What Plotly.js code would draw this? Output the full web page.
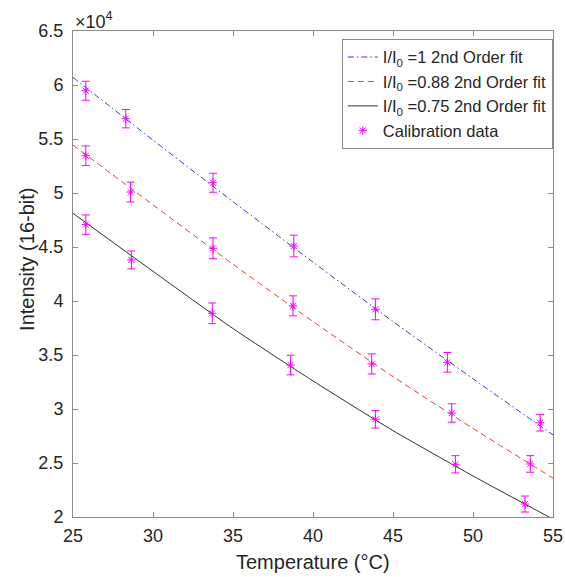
<!DOCTYPE html>
<html>
<head>
<meta charset="utf-8">
<script src="https://cdn.plot.ly/plotly-3.0.1.min.js"></script>
<style>html,body{margin:0;padding:0;background:#fff;}#chart{width:565px;height:577px;}</style>
</head>
<body>
<div id="chart"></div>
<script>
// Calibration data (Intensity, 16-bit counts)
const tempA = [25.8, 28.3, 33.75, 38.8, 43.9, 48.4, 54.2];
const intA  = [59470, 56880, 50950, 45090, 39230, 34320, 28730];
const errA  = [880, 850, 880, 1000, 970, 910, 770];

const tempB = [25.8, 28.6, 33.75, 38.75, 43.67, 48.67, 53.58];
const intB  = [53450, 50090, 44880, 39550, 34170, 29630, 24910];
const errB  = [910, 920, 960, 930, 930, 850, 770];

const tempC = [25.8, 28.65, 33.7, 38.6, 43.9, 48.9, 53.25];
const intC  = [47070, 43800, 38860, 34070, 29050, 24880, 21200];
const errC  = [900, 830, 960, 910, 820, 800, 740];

// 2nd order fit curves
const fitT  = [25, 30, 35, 40, 45, 50, 55];
const fitA  = [60700, 54900, 49200, 43600, 38100, 32800, 27600];
const fitB  = [54440, 48900, 43400, 38100, 33000, 28200, 23600];
const fitC  = [48120, 42750, 37450, 32600, 28000, 23800, 19800];

// Axis ticks
const xTicks = [25, 30, 35, 40, 45, 50, 55];
const yTickVals = [20000, 25000, 30000, 35000, 40000, 45000, 50000, 55000, 60000, 65000];
const yTickText = ['2', '2.5', '3', '3.5', '4', '4.5', '5', '5.5', '6', '6.5'];

const FONT = '"Liberation Sans", Arial, Helvetica, sans-serif';
const TXT = '#262626';
const MAG = '#FF00FF';

function dataTrace(x, y, e, show) {
  return {
    x: x, y: y, type: 'scatter', mode: 'markers',
    name: 'Calibration data', legendgroup: 'cal', showlegend: show,
    marker: {symbol: 'asterisk-open', size: 7, color: MAG, line: {color: MAG, width: 1}},
    error_y: {type: 'data', array: e, visible: true, color: MAG, thickness: 1, width: 4}
  };
}

const traces = [
  {x: fitT, y: fitA, type: 'scatter', mode: 'lines', name: 'I/I<sub>0</sub> =1 2nd Order fit',
   line: {color: '#3030FF', width: 1, dash: '6px,3px,1.5px,3px', shape: 'spline', smoothing: 0.6}},
  {x: fitT, y: fitB, type: 'scatter', mode: 'lines', name: 'I/I<sub>0</sub> =0.88 2nd Order fit',
   line: {color: '#FF3030', width: 1, dash: '6px,4px', shape: 'spline', smoothing: 0.6}},
  {x: fitT, y: fitC, type: 'scatter', mode: 'lines', name: 'I/I<sub>0</sub> =0.75 2nd Order fit',
   line: {color: '#303030', width: 1, shape: 'spline', smoothing: 0.6}},
  dataTrace(tempA, intA, errA, true),
  dataTrace(tempB, intB, errB, false),
  dataTrace(tempC, intC, errC, false)
];

const layout = {
  width: 565, height: 577,
  margin: {l: 73, r: 12, t: 31, b: 60, pad: 0},
  paper_bgcolor: '#fff', plot_bgcolor: '#fff',
  font: {family: FONT, color: TXT, size: 18},
  showlegend: true,
  legend: {
    x: 0.56, y: 0.984, xanchor: 'left', yanchor: 'top',
    bgcolor: '#fff', bordercolor: '#8a8a8a', borderwidth: 1,
    font: {family: FONT, size: 16.5, color: TXT},
    itemwidth: 30, tracegroupgap: 0
  },
  xaxis: {
    range: [25, 55], tickvals: xTicks, ticks: 'inside', ticklen: 5, tickcolor: '#8a8a8a',
    showline: true, linecolor: '#8a8a8a', linewidth: 1, mirror: 'ticks',
    showgrid: false, zeroline: false, automargin: false, ticklabelstandoff: 2,
    tickfont: {family: FONT, size: 18, color: TXT}
  },
  yaxis: {
    range: [20000, 65000], tickvals: yTickVals, ticktext: yTickText, ticks: 'inside', ticklen: 5,
    tickcolor: '#8a8a8a', showline: true, linecolor: '#8a8a8a', linewidth: 1, mirror: 'ticks',
    showgrid: false, zeroline: false, automargin: false, ticklabelstandoff: 5,
    tickfont: {family: FONT, size: 18, color: TXT}
  },
  annotations: [
    {xref: 'paper', yref: 'paper', x: 0, y: 1, xanchor: 'left', yanchor: 'bottom',
     text: '×10<sup>4</sup>', showarrow: false, font: {family: FONT, size: 18, color: TXT}, yshift: -3},
    {xref: 'paper', yref: 'paper', x: 0.5, y: -0.0926, xanchor: 'center', yanchor: 'middle',
     text: 'Temperature (°C)', showarrow: false, font: {family: FONT, size: 20, color: TXT}},
    {xref: 'paper', yref: 'paper', x: -0.0958, y: 0.529, xanchor: 'center', yanchor: 'middle',
     text: 'Intensity (16-bit)', textangle: -90, showarrow: false, font: {family: FONT, size: 20, color: TXT}}
  ]
};

Plotly.newPlot('chart', traces, layout, {displayModeBar: false, staticPlot: true});
</script>
</body>
</html>
